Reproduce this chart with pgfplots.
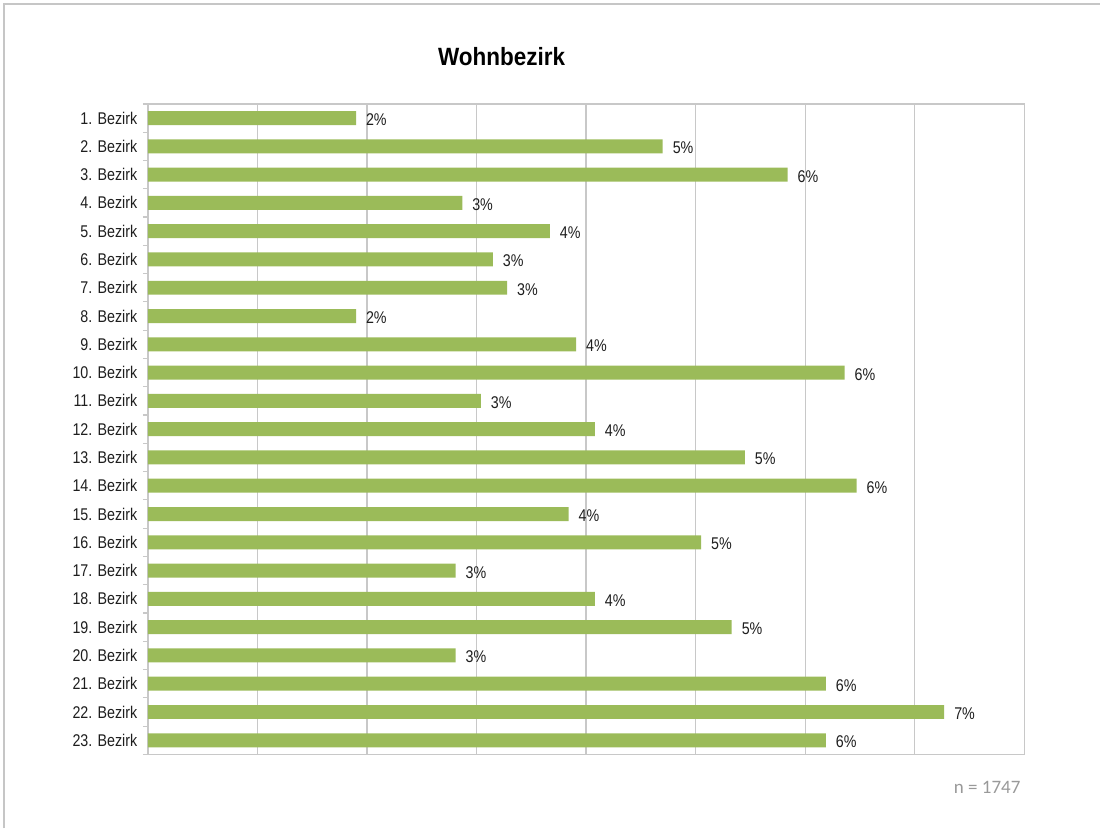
\documentclass[border=0pt]{standalone}
\usepackage{pgfplots}
\pgfplotsset{compat=1.18}
\usepackage{pgfplotstable}
\usepackage{fontspec}
\setmainfont{Liberation Sans}[FakeStretch=0.84]
\newfontfamily\titlefont{Liberation Sans}[FakeStretch=0.9]
\newfontfamily\calfont{Carlito}
\definecolor{bargreen}{RGB}{155,187,89}
\definecolor{txt}{RGB}{30,30,30}
\definecolor{gridgray}{RGB}{200,200,200}
\pgfplotstableread{
c v l
1 1.90 2
2 4.70 5
3 5.84 6
4 2.87 3
5 3.67 4
6 3.15 3
7 3.28 3
8 1.90 2
9 3.91 4
10 6.36 6
11 3.04 3
12 4.08 4
13 5.45 5
14 6.47 6
15 3.84 4
16 5.05 5
17 2.81 3
18 4.08 4
19 5.33 5
20 2.81 3
21 6.19 6
22 7.27 7
23 6.19 6
}\data
\begin{document}
\begin{tikzpicture}
\begin{axis}[
  scale only axis, width=438.5pt, height=325.5pt,
  xbar, bar width=7pt,
  xmin=0, xmax=8, ymin=0.5, ymax=23.5,
  y dir=reverse,
  xtick={0,1,...,8}, xticklabels={},
  major x tick style={draw=none},
  xmajorgrids, grid style={gridgray, line width=0.6pt},
  axis line style={gridgray, line width=0.7pt},
  ytick={1,...,23},
  yticklabels={1. Bezirk,2. Bezirk,3. Bezirk,4. Bezirk,5. Bezirk,6. Bezirk,7. Bezirk,8. Bezirk,9. Bezirk,10. Bezirk,11. Bezirk,12. Bezirk,13. Bezirk,14. Bezirk,15. Bezirk,16. Bezirk,17. Bezirk,18. Bezirk,19. Bezirk,20. Bezirk,21. Bezirk,22. Bezirk,23. Bezirk},
  ytick pos=left,
  major y tick style={draw=none},
  minor ytick={0.5,1.5,...,23.5},
  minor y tick style={gridgray, line width=0.6pt},
  minor tick length=2.5pt, tick align=outside,
  yticklabel style={font=\fontsize{8.5}{10}\selectfont, text=txt, xshift=2.5pt},
  /pgf/number format/assume math mode=true,
  nodes near coords={\pgfmathprintnumber[fixed,precision=0]{\pgfplotspointmeta}\%},
  point meta=explicit,
  nodes near coords style={font=\fontsize{8.5}{10}\selectfont, text=txt, anchor=west, xshift=1.5pt, yshift=-0.8pt},
  clip=false,
]
\addplot[fill=bargreen, draw=none] table[x=v, y=c, meta=l] {\data};
\path[draw=none] (axis cs:-1.350,-3.174) rectangle (axis cs:8.693,26.115);
\draw[gray!45, line width=0.9pt] (axis cs:-1.3135,26.115) -- (axis cs:-1.3135,-3.027) -- (axis cs:8.693,-3.027);
\node[font=\titlefont\bfseries\fontsize{12.5}{14}\selectfont, text=black] at (axis cs:3.229,-1.161) {Wohnbezirk};
\node[font=\calfont\fontsize{9.5}{11}\selectfont, text=black!40] at (axis cs:7.662,24.666) {n = 1747};
\end{axis}
\end{tikzpicture}
\end{document}
